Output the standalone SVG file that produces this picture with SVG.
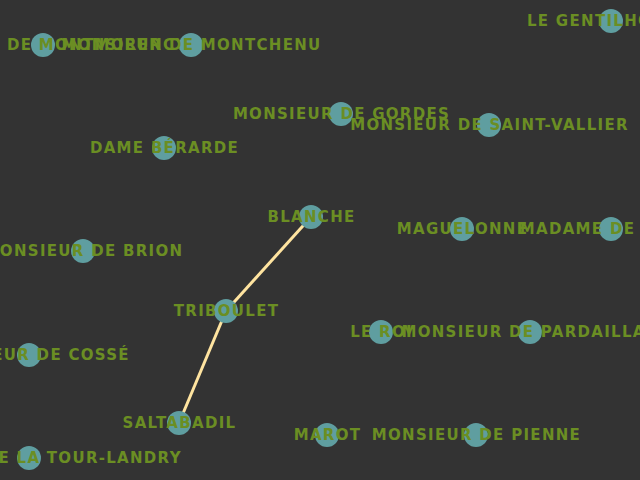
<svg xmlns="http://www.w3.org/2000/svg" width="640" height="480" viewBox="0 0 640 480">
<style>
.n circle{fill:#5f9ea0;}
.n text{fill:#6b8e23;font-family:"DejaVu Sans",sans-serif;font-weight:bold;font-size:15px;letter-spacing:1.3px;text-anchor:middle;}
.e line{stroke:#ffe4a0;stroke-width:3;}
</style>
<rect width="640" height="480" fill="#333333"/>
<g id="connectors" class="e">
<line x1="311" y1="217" x2="226" y2="311"/>
<line x1="226" y1="311" x2="179" y2="423"/>
</g>
<g id="montmorency" class="n"><circle cx="43" cy="45" r="12"/><text x="43.5" y="49.5">MONSIEUR DE MONTMORENCY</text></g>
<g id="montchenu" class="n"><circle cx="191" cy="45" r="12"/><text x="191.5" y="49.5">MONSIEUR DE MONTCHENU</text></g>
<g id="gentilhomme" class="n"><circle cx="611" cy="21" r="12"/><text x="611.5" y="25.5">LE GENTILHOMME</text></g>
<g id="gordes" class="n"><circle cx="341" cy="114" r="12"/><text x="341.5" y="118.5">MONSIEUR DE GORDES</text></g>
<g id="saintvallier" class="n"><circle cx="489" cy="125" r="12"/><text x="489.5" y="129.5">MONSIEUR DE SAINT-VALLIER</text></g>
<g id="berarde" class="n"><circle cx="164" cy="148" r="12"/><text x="164.5" y="152.5">DAME BÉRARDE</text></g>
<g id="blanche" class="n"><circle cx="311" cy="217" r="12"/><text x="311.5" y="221.5">BLANCHE</text></g>
<g id="maguelonne" class="n"><circle cx="462" cy="229" r="12"/><text x="462.5" y="233.5">MAGUELONNE</text></g>
<g id="madamecosse" class="n"><circle cx="611" cy="229" r="12"/><text x="611.5" y="233.5">MADAME DE COSSÉ</text></g>
<g id="brion" class="n"><circle cx="83" cy="251" r="12"/><text x="83.5" y="255.5">MONSIEUR DE BRION</text></g>
<g id="triboulet" class="n"><circle cx="226" cy="311" r="12"/><text x="226.5" y="315.5">TRIBOULET</text></g>
<g id="roi" class="n"><circle cx="381" cy="332" r="12"/><text x="381.5" y="336.5">LE ROI</text></g>
<g id="pardaillan" class="n"><circle cx="530" cy="332" r="12"/><text x="530.5" y="336.5">MONSIEUR DE PARDAILLAN</text></g>
<g id="cosse" class="n"><circle cx="29" cy="355" r="12"/><text x="29.5" y="359.5">MONSIEUR DE COSSÉ</text></g>
<g id="saltabadil" class="n"><circle cx="179" cy="423" r="12"/><text x="179.5" y="427.5">SALTABADIL</text></g>
<g id="marot" class="n"><circle cx="327" cy="435" r="12"/><text x="327.5" y="439.5">MAROT</text></g>
<g id="pienne" class="n"><circle cx="476" cy="435" r="12"/><text x="476.5" y="439.5">MONSIEUR DE PIENNE</text></g>
<g id="tourlandry" class="n"><circle cx="29" cy="458" r="12"/><text x="29.5" y="462.5">MONSIEUR DE LA TOUR-LANDRY</text></g>
</svg>
